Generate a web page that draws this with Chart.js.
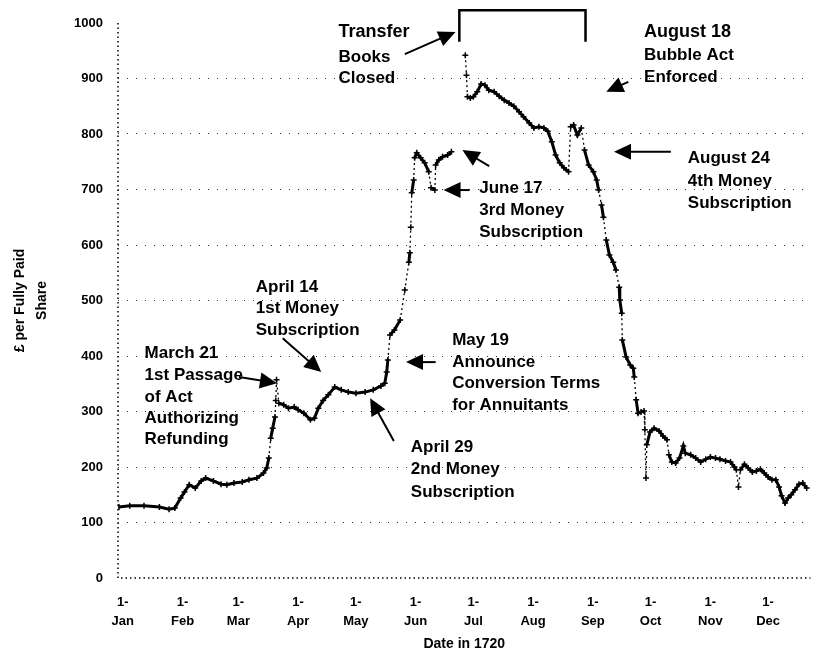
<!DOCTYPE html>
<html lang="en">

<head>
    <meta charset="UTF-8">
    <title>South Sea Company share price, 1720</title>
    <script src="https://cdn.jsdelivr.net/npm/chart.js"></script>
    <style>
        body { margin: 0; background: #fff; }
        #wrap { width: 816px; height: 655px; }
    </style>
</head>

<body>
    <div id="wrap">
        <canvas id="chart_price"></canvas>
    </div>

    <script>
        // day of 1720 (0 = 1 Jan) and price in pounds per fully paid share
        var days = [-2, 3.6, 11, 19, 24, 27, 30, 32, 34.5, 37.6,
            40.7, 43, 47, 51, 54, 57.7, 62, 65.5, 69.6, 73,
            74.7, 75.8, 76.8, 77.8, 79, 79.4, 79.8, 81, 83.5, 86,
            89, 91, 94, 97.4, 99.5, 101.5, 104, 106.7, 110, 113.4,
            117, 121, 125.8, 130, 134, 136, 137, 137.6, 138.7, 141,
            144, 146.4, 148.5, 149, 149.5, 150, 151, 151.5, 152.6, 154.6,
            156.7, 158.8, 160, 162, 162.4, 164, 166, 168.6, 170.6, 174,
            177.8, 178.4, 178.9, 180.4, 182, 184, 186, 188, 190, 192.8,
            195.4, 198, 200.5, 203, 205.7, 208, 211, 213.4, 216, 218.6,
            220.6, 222.7, 224.7, 226.8, 229, 231.4, 232.5, 234, 236, 238,
            239.7, 241.8, 244.3, 246, 247, 248.5, 249.5, 251, 252.6, 254.6,
            256, 257.7, 258, 259, 259.3, 261.3, 263.4, 265, 265.5, 266.5,
            267.5, 269, 270.6, 271, 271.6, 272, 273.7, 275.8, 278.4, 280.4,
            282.5, 283.5, 285, 287, 289, 291, 292, 294.8, 297.4, 300,
            302.6, 305, 307.7, 310, 312.9, 315.5, 317.5, 318.5, 319.6, 320.6,
            322.7, 324.7, 326.8, 328.9, 331, 333, 335, 337, 339, 340.7,
            342, 343.8, 345.4, 347, 349, 351, 353, 355];

        var prices = [128, 130, 130, 128, 124, 126, 144, 155, 168, 162,
            175, 180, 175, 169, 168, 171, 173, 177, 180, 189,
            198, 216, 252, 270, 290, 320, 357, 315, 312, 306,
            308, 303, 297, 285, 288, 306, 320, 330, 344, 339,
            335, 333, 335, 339, 346, 351, 371, 393, 438, 447,
            465, 519, 569, 586, 632, 694, 717, 757, 766, 757,
            748, 732, 703, 699, 744, 753, 759, 762, 768, null,
            942, 906, 867, 865, 867, 876, 890, 888, 879, 876,
            868, 861, 856, 850, 840, 831, 820, 811, 813, 811,
            805, 786, 762, 748, 739, 732, 813, 816, 798, 811,
            771, 744, 732, 717, 699, 672, 650, 609, 582, 569,
            555, 524, 501, 477, 429, 398, 384, 378, 362, 321,
            297, 299, 301, 267, 180, 240, 263, 270, 265, 256,
            249, 222, 209, 207, 216, 238, 225, 222, 216, 209,
            214, 218, 216, 214, 211, 209, 200, 195, 164, 195,
            205, 198, 191, 193, 196, 189, 182, 177, 177, 164,
            148, 135, 144, 150, 159, 169, 171, 162];

        // month ticks (1720 is a leap year)
        var monthDays = [0, 31, 60, 91, 121, 152, 182, 213, 244, 274, 305, 335];
        var monthNames = ['Jan', 'Feb', 'Mar', 'Apr', 'May', 'Jun', 'Jul', 'Aug', 'Sep', 'Oct', 'Nov', 'Dec'];

        // bracket over the period the transfer books were closed
        var bracketDays = [174.7, 174.7, 240.2, 240.2];
        var bracketVals = [966, 1023, 1023, 966];

        // notes: [day, price, text, big]
        var notes = [
            [112, 984, 'Transfer', true], [112, 939, 'Books'], [112, 901, 'Closed'],
            [270.6, 984, 'August 18', true], [270.6, 942, 'Bubble Act'], [270.6, 903, 'Enforced'],
            [293.3, 757, 'August 24'], [293.3, 715, '4th Money'], [293.3, 676, 'Subscription'],
            [185, 703, 'June 17'], [185, 663, '3rd Money'], [185, 622, 'Subscription'],
            [69, 524, 'April 14'], [69, 486, '1st Money'], [69, 447, 'Subscription'],
            [11.3, 405, 'March 21'], [11.3, 366, '1st Passage'], [11.3, 326, 'of Act'],
            [11.3, 288, 'Authorizing'], [11.3, 249, 'Refunding'],
            [171, 429, 'May 19'], [171, 389, 'Announce'], [171, 351, 'Conversion Terms'],
            [171, 312, 'for Annuitants'],
            [149.5, 236, 'April 29'], [149.5, 195, '2nd Money'], [149.5, 155, 'Subscription']
        ];

        // arrows: [from day, from price, to day, to price]
        var arrows = [
            [146.4, 944, 172.7, 984],
            [262.4, 894, 251, 876],
            [284.5, 768, 255, 768],
            [180, 699, 166.5, 699],
            [190.2, 742, 176.3, 771],
            [83, 432, 103, 371],
            [60.3, 362, 80, 351],
            [162.4, 389, 147, 389],
            [140.7, 247, 128.4, 324]
        ];

        var FONT = '"Liberation Sans", Arial, sans-serif';

        var points = days.map(function (d, i) { return { x: d, y: prices[i] }; });
        var bracket = bracketDays.map(function (d, i) { return { x: d, y: bracketVals[i] }; });

        var notesPlugin = {
            id: 'notes',
            afterDatasetsDraw: function (chart) {
                var ctx = chart.ctx, xs = chart.scales.x, ys = chart.scales.y;
                ctx.save();
                ctx.fillStyle = '#000';
                ctx.strokeStyle = '#000';
                ctx.textAlign = 'left';
                ctx.textBaseline = 'middle';
                notes.forEach(function (n) {
                    ctx.font = 'bold ' + (n[3] ? 18 : 17) + 'px ' + FONT;
                    ctx.fillText(n[2], xs.getPixelForValue(n[0]), ys.getPixelForValue(n[1]));
                });
                arrows.forEach(function (a) {
                    var x0 = xs.getPixelForValue(a[0]), y0 = ys.getPixelForValue(a[1]);
                    var x1 = xs.getPixelForValue(a[2]), y1 = ys.getPixelForValue(a[3]);
                    var ang = Math.atan2(y1 - y0, x1 - x0), c = Math.cos(ang), s = Math.sin(ang);
                    ctx.lineWidth = 2;
                    ctx.beginPath();
                    ctx.moveTo(x0, y0);
                    ctx.lineTo(x1 - 10 * c, y1 - 10 * s);
                    ctx.stroke();
                    ctx.beginPath();
                    ctx.moveTo(x1, y1);
                    ctx.lineTo(x1 - 17 * c + 8 * s, y1 - 17 * s - 8 * c);
                    ctx.lineTo(x1 - 17 * c - 8 * s, y1 - 17 * s + 8 * c);
                    ctx.closePath();
                    ctx.fill();
                });
                ctx.restore();
            }
        };

        // dotted axis lines on the left and bottom of the plot
        var dottedAxes = {
            id: 'dottedAxes',
            beforeDatasetsDraw: function (chart) {
                var ctx = chart.ctx, a = chart.chartArea;
                ctx.save();
                ctx.strokeStyle = '#000';
                ctx.lineWidth = 1.5;
                ctx.setLineDash([1.5, 3]);
                ctx.beginPath();
                ctx.moveTo(a.left, a.top);
                ctx.lineTo(a.left, a.bottom);
                ctx.lineTo(a.right, a.bottom);
                ctx.stroke();
                ctx.restore();
            }
        };

        var ctx_price = document.getElementById('chart_price').getContext('2d');
        var chart_price = new Chart(ctx_price, {
            type: 'line',
            data: {
                datasets: [{
                    label: 'Price',
                    data: points,
                    borderColor: '#000',
                    backgroundColor: '#000',
                    borderWidth: 3,
                    pointStyle: 'cross',
                    pointRadius: 3,
                    pointBorderWidth: 1.5,
                    spanGaps: false,
                    fill: false,
                    segment: {
                        // near vertical moves come out as dotted strokes
                        borderDash: function (c) {
                            var dx = Math.abs(c.p1.x - c.p0.x), dy = Math.abs(c.p1.y - c.p0.y);
                            return (dy > 14 && dy > 5 * dx) ? [2, 3] : undefined;
                        },
                        borderWidth: function (c) {
                            var dx = Math.abs(c.p1.x - c.p0.x), dy = Math.abs(c.p1.y - c.p0.y);
                            return (dy > 14 && dy > 5 * dx) ? 1.3 : undefined;
                        }
                    }
                }, {
                    label: 'Books closed',
                    data: bracket,
                    borderColor: '#000',
                    borderWidth: 2.5,
                    pointRadius: 0,
                    fill: false,
                    clip: false
                }]
            },
            options: {
                responsive: true,
                maintainAspectRatio: false,
                animation: false,
                layout: { padding: { top: 23, right: 1, bottom: 0, left: 0 } },
                plugins: {
                    legend: { display: false },
                    tooltip: { enabled: false }
                },
                scales: {
                    x: {
                        type: 'linear',
                        min: -2.5,
                        max: 357,
                        afterBuildTicks: function (scale) {
                            scale.ticks = monthDays.map(function (d) { return { value: d }; });
                        },
                        afterFit: function (scale) { scale.height = 77; },
                        grid: { display: false, drawTicks: false },
                        border: { display: false },
                        ticks: {
                            autoSkip: false,
                            maxRotation: 0,
                            padding: 15,
                            color: '#000',
                            font: { family: FONT, size: 13, weight: 'bold', lineHeight: 1.45 },
                            callback: function (v) {
                                var i = monthDays.indexOf(v);
                                return ['1-', monthNames[i]];
                            }
                        },
                        title: {
                            display: true,
                            text: 'Date in 1720',
                            color: '#000',
                            padding: { top: 0, bottom: 2 },
                            font: { family: FONT, size: 14, weight: 'bold' }
                        }
                    },
                    y: {
                        min: 0,
                        max: 1000,
                        afterFit: function (scale) { scale.width = 118; },
                        grid: {
                            drawTicks: false,
                            color: function (c) { return (c.tick.value === 0 || c.tick.value === 1000) ? 'rgba(0,0,0,0)' : '#333'; },
                            lineWidth: 1
                        },
                        border: { display: false, dash: [1, 8] },
                        ticks: {
                            stepSize: 100,
                            padding: 15,
                            color: '#000',
                            font: { family: FONT, size: 13, weight: 'bold' },
                            callback: function (v) { return String(v); }
                        },
                        title: {
                            display: true,
                            text: ['\u00a3 per Fully Paid', 'Share'],
                            color: '#000',
                            padding: { top: 9, bottom: 0 },
                            font: { family: FONT, size: 14, weight: 'bold', lineHeight: 1.6 }
                        }
                    }
                }
            },
            plugins: [dottedAxes, notesPlugin]
        });
    </script>
</body>

</html>
